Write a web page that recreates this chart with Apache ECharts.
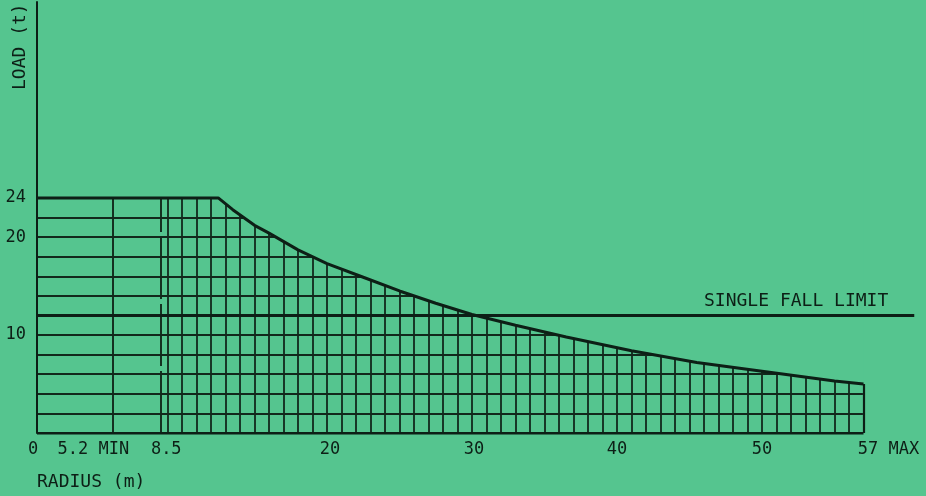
<!DOCTYPE html>
<html><head><meta charset="utf-8">
<script src="https://cdn.jsdelivr.net/npm/echarts@6/dist/echarts.min.js"></script>
<style>html,body{margin:0;padding:0;background:#55c58f;}#c{width:926px;height:496px;}</style>
</head><body><div id="c"></div>
<script>
// ---- data ----
const radius = [0, 12.5, 13.5, 15, 16, 18, 20, 22.5, 25, 27.5, 30, 33, 36.5, 41, 45.5, 50, 55, 57];
const load   = [24, 24, 22.8, 21.2, 20.4, 18.7, 17.3, 15.9, 14.5, 13.25, 12.1, 11.0, 9.8, 8.4, 7.2, 6.3, 5.3, 5.0];
const xTickValues = [0, 5.2, 8.5, 20, 30, 40, 50, 57];
const xTickLabels = ['0', '5.2 MIN', '8.5', '20', '30', '40', '50', '57 MAX'];
const yTickValues = [10, 20, 24];
const gridRadii = [9,10,11,12,13,14,15,16,17,18,19,20,21,22,23,24,25,26,27,28,29,30,31,32,33,34,35,36,37,38,39,40,41,42,43,44,45,46,47,48,49,50,51,52,53,54,55,56];
const gridLoads = [2,4,6,8,10,12,14,16,18,20,22];
const minRadius = 5.2;
const dashedRadius = 8.5;
const maxRadius = 57;
const maxLoad = 24;
const singleFallLimit = 12;
const fallLimitEnd = 60.5;
const fallLimitText = 'SINGLE FALL LIMIT';

// ---- styles ----
const BG = '#55c58f';
const INK = '#0d1f16';
const GRIDINK = '#12291c';
const FONT = '"DejaVu Sans Mono", "Liberation Mono", monospace';
const labelNudge = { '0': -4, '5.2 MIN': -19, '8.5': 6, '20': 3, '30': 2, '57 MAX': 25 };
const gridEndInset = 0.04; // keeps anti-aliased line ends under the mask

const rich = { t: { fontFamily: FONT, fontSize: 17, color: INK } };
Object.keys(labelNudge).forEach((k, i) => { rich['p' + i] = { width: Math.abs(labelNudge[k]) * 2, fontSize: 17 }; });

function xLabel(v) {
  const idx = xTickValues.indexOf(v);
  const txt = idx >= 0 ? xTickLabels[idx] : String(v);
  const keys = Object.keys(labelNudge);
  const k = keys.indexOf(txt);
  if (k < 0) return '{t|' + txt + '}';
  return labelNudge[txt] > 0 ? '{p' + k + '| }{t|' + txt + '}' : '{t|' + txt + '}{p' + k + '| }';
}

const chart = echarts.init(document.getElementById('c'), null, { renderer: 'canvas' });
const curve = radius.map((r, i) => [r, load[i]]);

chart.setOption({
  backgroundColor: BG,
  animation: false,
  grid: { left: 37, top: 2, width: 884.5, height: 431 },
  xAxis: {
    type: 'value', min: 0, max: 61, z: 4,
    name: 'RADIUS (m)', nameLocation: 'start', nameGap: 0, nameMoveOverlap: false,
    nameTextStyle: { fontFamily: FONT, fontSize: 18, color: INK, align: 'left', verticalAlign: 'top', padding: [40, 0, 0, 0] },
    axisLine: { show: false }, axisTick: { show: false }, splitLine: { show: false },
    axisLabel: { customValues: xTickValues, formatter: xLabel, rich: rich, margin: 8 }
  },
  yAxis: {
    type: 'value', min: 0, max: 44, z: 4,
    name: 'LOAD (t)', nameLocation: 'end', nameRotate: 90, nameGap: -88, nameMoveOverlap: false,
    nameTextStyle: { fontFamily: FONT, fontSize: 18, color: INK, align: 'left', verticalAlign: 'bottom', padding: [0, 0, 8, 0] },
    axisLine: { show: true, lineStyle: { color: INK, width: 2 } },
    axisTick: { show: false }, splitLine: { show: false },
    axisLabel: { customValues: yTickValues, margin: 11, fontFamily: FONT, fontSize: 17, color: INK }
  },
  series: [
    { name: 'radius grid', type: 'lines', coordinateSystem: 'cartesian2d', z: 2, silent: true,
      lineStyle: { color: GRIDINK, width: 1.8, opacity: 1 },
      data: gridRadii.map(r => ({ coords: [[r, 0], [r, maxLoad]] })) },
    { name: 'load grid', type: 'lines', coordinateSystem: 'cartesian2d', z: 2, silent: true,
      lineStyle: { color: GRIDINK, width: 1.8, opacity: 1 },
      data: gridLoads.map(l => ({ coords: [[0, l], [maxRadius - gridEndInset, l]] })) },
    { name: 'min radius', type: 'lines', coordinateSystem: 'cartesian2d', z: 2, silent: true,
      lineStyle: { color: GRIDINK, width: 1.9, opacity: 1 },
      data: [{ coords: [[minRadius, 0], [minRadius, maxLoad]] }] },
    { name: 'dashed radius', type: 'lines', coordinateSystem: 'cartesian2d', z: 2, silent: true,
      lineStyle: { color: GRIDINK, width: 1.9, opacity: 1, type: [62, 5] },
      data: [{ coords: [[dashedRadius, 0], [dashedRadius, maxLoad]] }] },
    { name: 'load curve', type: 'line', z: 3, silent: true, symbol: 'none',
      data: curve,
      lineStyle: { color: INK, width: 3 },
      areaStyle: { origin: 'end', color: BG, opacity: 1 } },
    { name: 'max radius', type: 'lines', coordinateSystem: 'cartesian2d', z: 3, silent: true,
      lineStyle: { color: INK, width: 2.2, opacity: 1 },
      data: [{ coords: [[maxRadius, 0], [maxRadius, load[load.length - 1]]] }] },
    { name: 'baseline', type: 'lines', coordinateSystem: 'cartesian2d', z: 3, silent: true,
      lineStyle: { color: INK, width: 3, opacity: 1 },
      data: [{ coords: [[0, 0], [maxRadius, 0]] }] },
    { name: fallLimitText, type: 'line', z: 5, silent: true, symbol: 'circle', symbolSize: 0, showSymbol: true,
      lineStyle: { color: INK, width: 3 },
      data: [
        [0, singleFallLimit],
        { value: [fallLimitEnd, singleFallLimit],
          label: { show: true, formatter: fallLimitText, position: 'top', align: 'right', offset: [-26, 0],
                   fontFamily: FONT, fontSize: 18, color: INK } }
      ] }
  ]
});
</script></body></html>
